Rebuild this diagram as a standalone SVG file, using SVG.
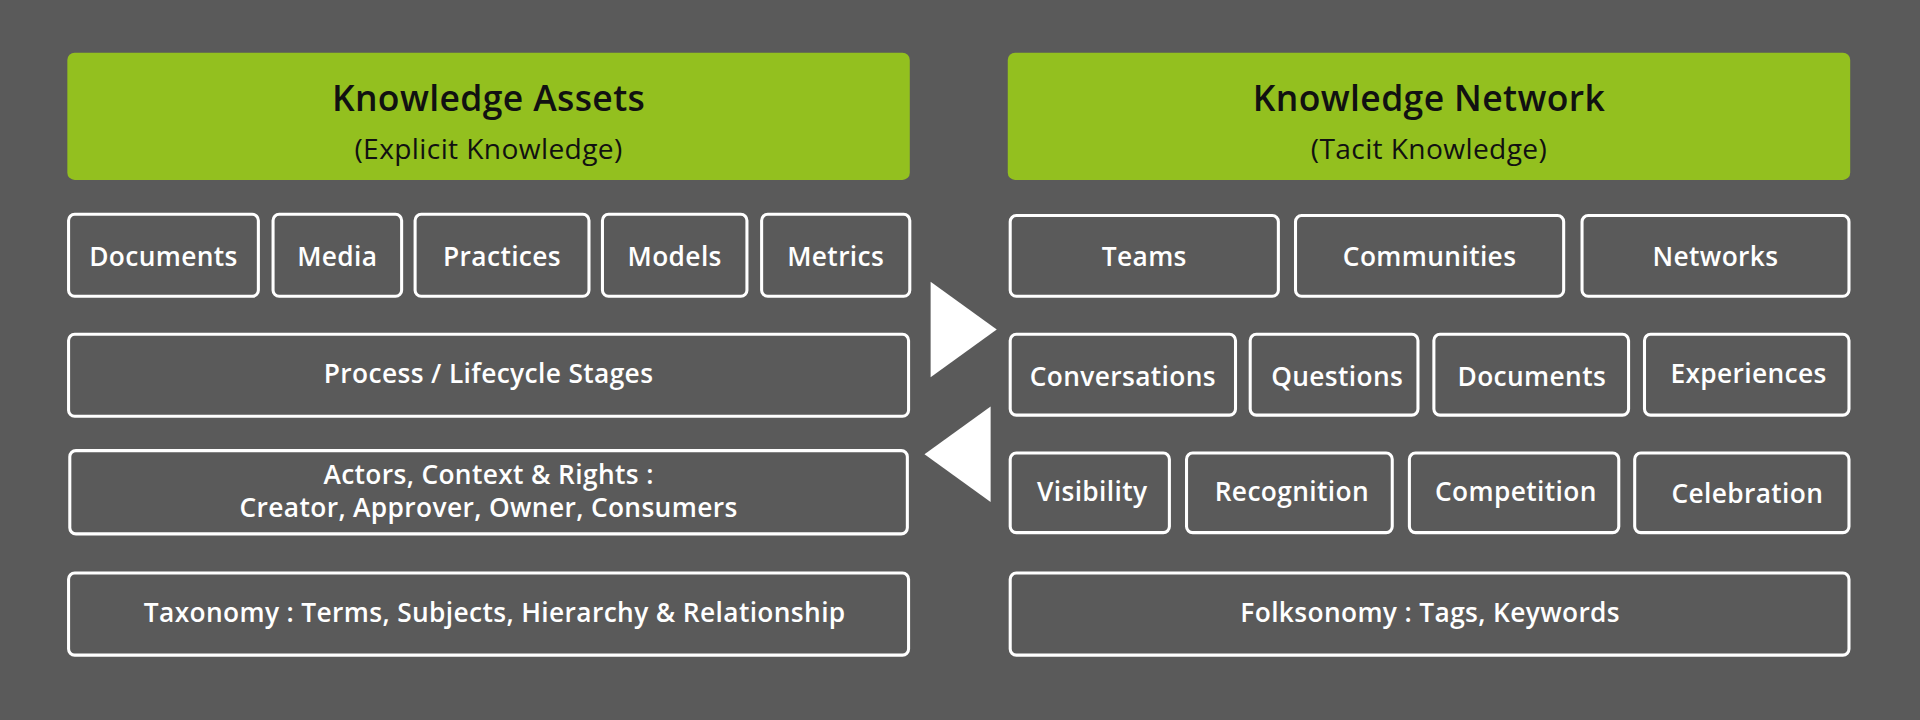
<svg xmlns="http://www.w3.org/2000/svg" width="1920" height="720" viewBox="0 0 1920 720">
<style>
.h{fill:#93c01f}
.b{fill:none;stroke:#fff;stroke-width:2.5}
text{font-family:"Open Sans",Lato,sans-serif;text-anchor:middle;dominant-baseline:central}
.t{fill:#fff;font-size:21.5px;font-weight:600;letter-spacing:0.3px}
.ht{fill:#111;font-size:29px;font-weight:600;letter-spacing:0.3px}
.hs{fill:#111;font-size:23px;letter-spacing:0.3px}
.ar{fill:#fff}
</style>
<rect width="1920" height="720" fill="#5a5a5a"/>
<g transform="scale(1.22449)">
<g id="hdr-left"><rect class="h" x="55" y="43" width="688" height="104" rx="6"/><text class="ht" x="399" y="79">Knowledge Assets</text><text class="hs" x="399" y="121">(Explicit Knowledge)</text></g>
<g id="hdr-right"><rect class="h" x="823" y="43" width="688" height="104" rx="6"/><text class="ht" x="1167" y="79">Knowledge Network</text><text class="hs" x="1167" y="121">(Tacit Knowledge)</text></g>
<g id="l-documents"><rect class="b" x="56" y="175" width="155" height="67" rx="5"/><text class="t" x="133.5" y="209">Documents</text></g>
<g id="l-media"><rect class="b" x="223" y="175" width="105" height="67" rx="5"/><text class="t" x="275.5" y="209">Media</text></g>
<g id="l-practices"><rect class="b" x="339" y="175" width="142" height="67" rx="5"/><text class="t" x="410" y="209">Practices</text></g>
<g id="l-models"><rect class="b" x="492" y="175" width="118" height="67" rx="5"/><text class="t" x="551" y="209">Models</text></g>
<g id="l-metrics"><rect class="b" x="622" y="175" width="121" height="67" rx="5"/><text class="t" x="682.5" y="209">Metrics</text></g>
<g id="l-process"><rect class="b" x="56" y="273" width="686" height="67" rx="5"/><text class="t" x="399" y="305">Process / Lifecycle Stages</text></g>
<g id="l-actors"><rect class="b" x="57" y="368" width="684" height="68" rx="5"/><text class="t" x="399" y="387">Actors, Context &amp; Rights :</text><text class="t" x="399" y="414">Creator, Approver, Owner, Consumers</text></g>
<g id="l-taxonomy"><rect class="b" x="56" y="468" width="686" height="67" rx="5"/><text class="t" x="404" y="500">Taxonomy : Terms, Subjects, Hierarchy &amp; Relationship</text></g>
<g id="r-teams"><rect class="b" x="825" y="176" width="219" height="66" rx="5"/><text class="t" x="934.5" y="209">Teams</text></g>
<g id="r-communities"><rect class="b" x="1058" y="176" width="219" height="66" rx="5"/><text class="t" x="1167.5" y="209">Communities</text></g>
<g id="r-networks"><rect class="b" x="1292" y="176" width="218" height="66" rx="5"/><text class="t" x="1401" y="209">Networks</text></g>
<g id="r-conversations"><rect class="b" x="825" y="273" width="184" height="66" rx="5"/><text class="t" x="917" y="307">Conversations</text></g>
<g id="r-questions"><rect class="b" x="1021" y="273" width="137" height="66" rx="5"/><text class="t" x="1092" y="307">Questions</text></g>
<g id="r-documents"><rect class="b" x="1171" y="273" width="159" height="66" rx="5"/><text class="t" x="1251" y="307">Documents</text></g>
<g id="r-experiences"><rect class="b" x="1343" y="273" width="167" height="66" rx="5"/><text class="t" x="1428" y="305">Experiences</text></g>
<g id="r-visibility"><rect class="b" x="825" y="370" width="130" height="65" rx="5"/><text class="t" x="892" y="401">Visibility</text></g>
<g id="r-recognition"><rect class="b" x="969" y="370" width="168" height="65" rx="5"/><text class="t" x="1055" y="401">Recognition</text></g>
<g id="r-competition"><rect class="b" x="1151" y="370" width="171" height="65" rx="5"/><text class="t" x="1238" y="401">Competition</text></g>
<g id="r-celebration"><rect class="b" x="1335" y="370" width="175" height="65" rx="5"/><text class="t" x="1427" y="403">Celebration</text></g>
<g id="r-folksonomy"><rect class="b" x="825" y="468" width="685" height="67" rx="5"/><text class="t" x="1168" y="500">Folksonomy : Tags, Keywords</text></g>
<g id="connectors"><polygon class="ar" points="760,230 814,269 760,308"/><polygon class="ar" points="809,332 755,371 809,410"/></g>
</g>
</svg>
